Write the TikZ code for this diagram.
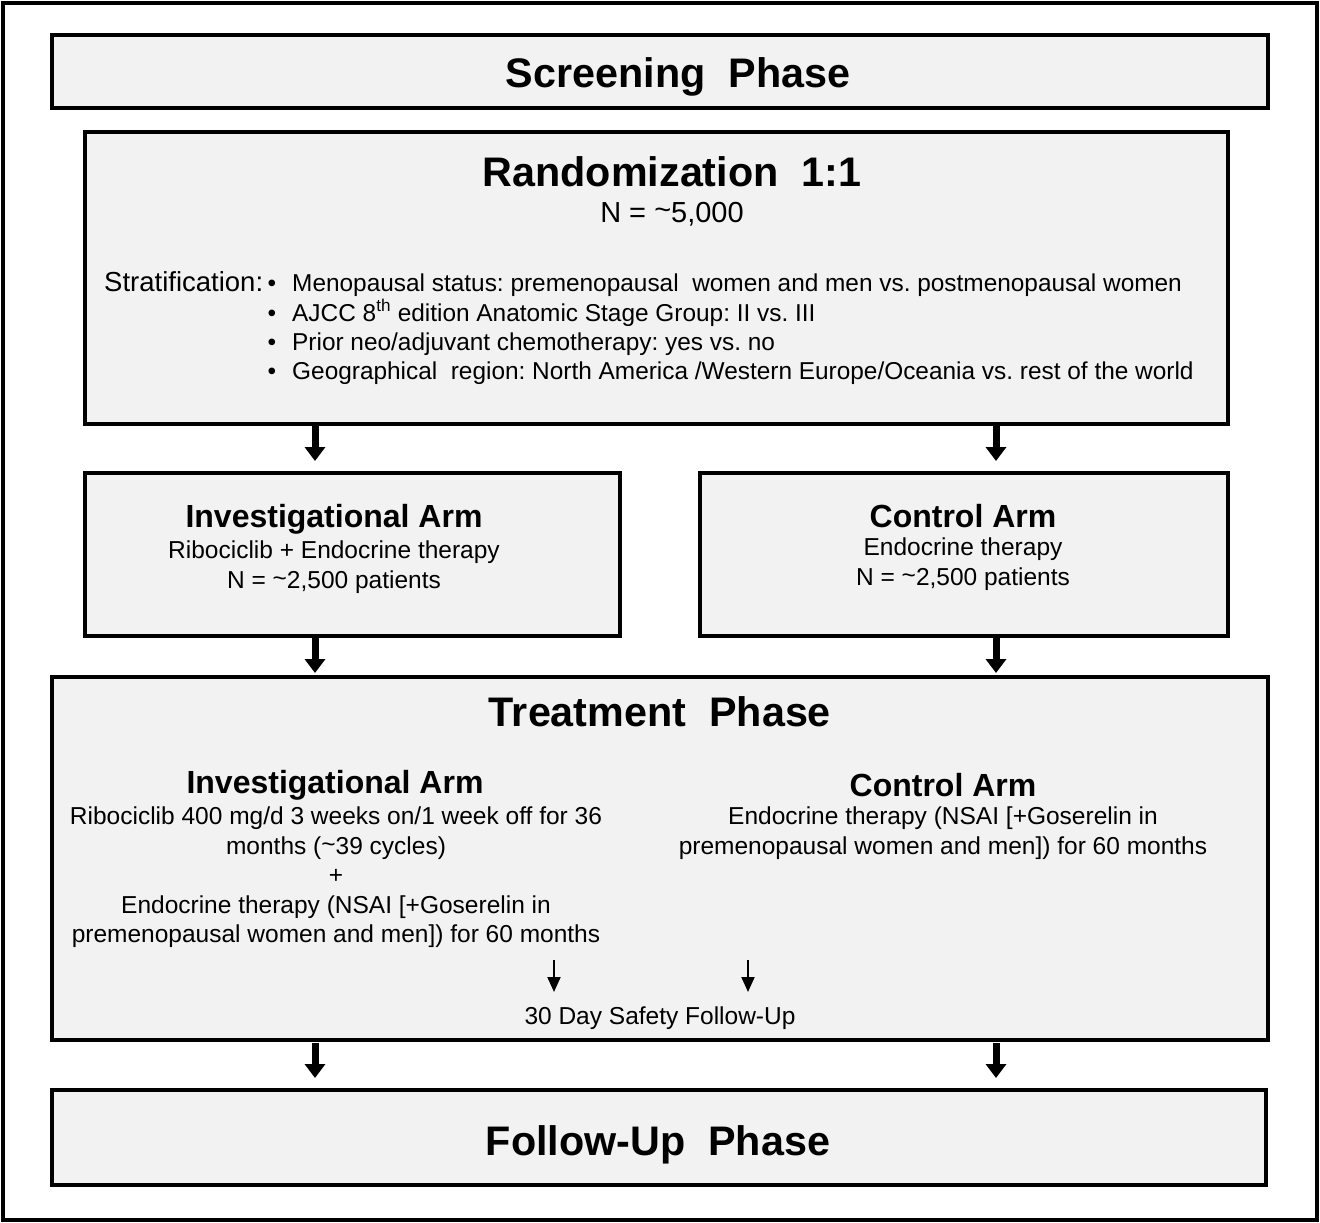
\documentclass[tikz,border=0pt]{standalone}
\usepackage{fontspec}
\setmainfont{Liberation Sans}
\usetikzlibrary{arrows.meta}
\definecolor{boxgray}{HTML}{F2F2F2}
\frenchspacing
\tikzset{
  phasebox/.style={draw=black, fill=boxgray, line width=4pt},
  bigarrow/.style={line width=7pt, -{Triangle[width=20pt,length=14pt]}},
  smallarrow/.style={line width=2pt, -{Triangle[width=13pt,length=15pt]}},
  titletext/.style={font=\fontsize{41.3}{49}\selectfont\bfseries, inner sep=0pt},
  armtitle/.style={font=\fontsize{32}{38}\selectfont\bfseries, inner sep=0pt},
  bodytext/.style={font=\fontsize{24.5}{29.5}\selectfont, inner sep=0pt, align=center},
}
\begin{document}
\begin{tikzpicture}[x=1pt,y=-1pt]
\useasboundingbox (0,0) rectangle (1320,1223);
\draw[line width=4pt] (3,3) rectangle (1317,1220);

% boxes
\draw[phasebox] (52,35) rectangle (1268,108);
\draw[phasebox] (85,132) rectangle (1228,424);
\draw[phasebox] (85,473) rectangle (620,636);
\draw[phasebox] (700,473) rectangle (1228,636);
\draw[phasebox] (52,677) rectangle (1268,1040);
\draw[phasebox] (52,1090) rectangle (1266,1185);

% screening
\node[titletext] (screen) at (678,77) {Screening\ \ Phase};

% randomization
\node[titletext] (rand) at (672,172) {Randomization\ \ 1:1};
\node[bodytext, font=\fontsize{29}{34}\selectfont] (randn) at (672,214) {N = \raisebox{0.15ex}{\char`~}5,000};
\node[bodytext, font=\fontsize{27.5}{33}\selectfont, anchor=base west] (strat) at (104,291) {Stratification:};
\foreach \yy/\txt [count=\i] in {
  291/{Menopausal status: premenopausal\ \ women and men vs. postmenopausal women},
  321/{AJCC 8\textsuperscript{th} edition Anatomic Stage Group: II vs. III},
  350/{Prior neo/adjuvant chemotherapy: yes vs. no},
  379/{Geographical\ \ region: North America /Western Europe/Oceania vs. rest of the world}}{
  \node[bodytext, anchor=base] (b\i) at (272,\yy) {\textbullet};
  \node[bodytext, font=\fontsize{24.4}{29.5}\selectfont, anchor=base west] (s\i) at (292,\yy) {\txt};
}

% arms
\node[armtitle] (inv) at (334,519) {Investigational Arm};
\node[bodytext] (invt) at (334,567) {Ribociclib + Endocrine therapy\\N = \raisebox{0.15ex}{\char`~}2,500 patients};
\node[armtitle] (ctl) at (963,516) {Control Arm};
\node[bodytext] (ctlt) at (963,564) {Endocrine therapy\\N = \raisebox{0.15ex}{\char`~}2,500 patients};

% treatment
\node[titletext] (treat) at (660,712) {Treatment\ \ Phase};
\node[armtitle] (tinv) at (335,785) {Investigational Arm};
\node[bodytext, anchor=north] (tinvt) at (336,807) {Ribociclib 400 mg/d 3 weeks on/1 week off for 36\\months (\raisebox{0.15ex}{\char`~}39 cycles)\\+\\Endocrine therapy (NSAI [+Goserelin in\\premenopausal women and men]) for 60 months};
\node[armtitle] (tctl) at (943,785) {Control Arm};
\node[bodytext, anchor=north] (tctlt) at (943,807) {Endocrine therapy (NSAI [+Goserelin in\\premenopausal women and men]) for 60 months};

\coordinate (sa1) at (554,960);
\coordinate (sa2) at (748,960);
\node[bodytext] (safety) at (660,1018) {30 Day Safety Follow-Up};
\draw[smallarrow] (sa1) -- (554,992);
\draw[smallarrow] (sa2) -- (748,992);

% follow-up
\node[titletext] (fu) at (658,1145) {Follow-Up\ \ Phase};

% big arrows
\foreach \xx in {315,996}{
  \draw[bigarrow] (\xx,426) -- (\xx,461);
  \draw[bigarrow] (\xx,638) -- (\xx,673);
  \draw[bigarrow] (\xx,1043) -- (\xx,1078);
}
\end{tikzpicture}
\end{document}
